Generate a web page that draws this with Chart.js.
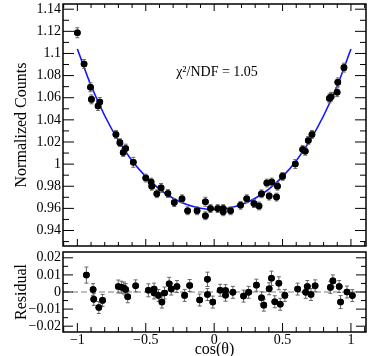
<!DOCTYPE html>
<html>
<head>
<meta charset="utf-8">
<script src="https://cdn.jsdelivr.net/npm/chart.js@4.4.1/dist/chart.umd.min.js"></script>
<style>
  html, body { margin: 0; padding: 0; background: #fff; }
  #wrap { position: relative; width: 374px; height: 356px; overflow: hidden; }
  #fitChart { position: absolute; left: 0; top: 0; }
  #residChart { position: absolute; left: 0; top: 248px; }
</style>
</head>
<body>
<div id="wrap">
  <canvas id="fitChart" width="374" height="250"></canvas>
  <canvas id="residChart" width="374" height="108"></canvas>
</div>
<script>
// fit curve
const fitX = [-1, -0.9, -0.8, -0.7, -0.6, -0.5, -0.4, -0.3, -0.2, -0.1, 0, 0.1, 0.2, 0.3, 0.4, 0.5, 0.6, 0.7, 0.8, 0.9, 1];
const fitY = [1.104, 1.071, 1.0437, 1.0213, 1.0031, 0.9887, 0.9775, 0.9692, 0.9634, 0.9601, 0.959, 0.9601, 0.9634, 0.9692, 0.9775, 0.9887, 1.0031, 1.0213, 1.0437, 1.071, 1.104];

// upper panel data points
const cosUpper = [-1.0, -0.951, -0.904, -0.897, -0.849, -0.836, -0.718, -0.689, -0.665, -0.647, -0.591, -0.5, -0.461, -0.456, -0.419, -0.388, -0.338, -0.292, -0.235, -0.194, -0.125, -0.064, -0.064, -0.027, 0.026, 0.066, 0.066, 0.12, 0.193, 0.238, 0.291, 0.328, 0.346, 0.385, 0.402, 0.421, 0.456, 0.463, 0.5, 0.593, 0.647, 0.666, 0.688, 0.715, 0.843, 0.855, 0.899, 0.904, 0.949];
const countsUpper = [1.1187, 1.0905, 1.0694, 1.0585, 1.0525, 1.0561, 1.0268, 1.0194, 1.0105, 1.014, 1.0016, 0.9874, 0.9838, 0.98, 0.9732, 0.9785, 0.9734, 0.9652, 0.9687, 0.9578, 0.9578, 0.966, 0.9533, 0.9598, 0.9598, 0.9598, 0.9569, 0.9578, 0.9628, 0.9687, 0.9643, 0.9622, 0.9732, 0.9829, 0.9711, 0.9838, 0.9702, 0.98, 0.9889, 1.0001, 1.0132, 1.0116, 1.0214, 1.0268, 1.0594, 1.0609, 1.065, 1.0739, 1.0872];
const errUpper = [0.0045, 0.004, 0.004, 0.004, 0.004, 0.004, 0.0035, 0.0035, 0.0035, 0.004, 0.0045, 0.0035, 0.0035, 0.0035, 0.0035, 0.004, 0.0035, 0.0035, 0.0035, 0.0035, 0.0035, 0.004, 0.0035, 0.0035, 0.0035, 0.0035, 0.0035, 0.0035, 0.0035, 0.0035, 0.0035, 0.0035, 0.0035, 0.0035, 0.0035, 0.0035, 0.0035, 0.0035, 0.0035, 0.004, 0.0035, 0.0035, 0.0035, 0.0035, 0.004, 0.004, 0.004, 0.004, 0.004];

// lower panel residuals
const cosResid = [-0.934, -0.885, -0.88, -0.843, -0.816, -0.701, -0.677, -0.66, -0.647, -0.632, -0.574, -0.481, -0.439, -0.439, -0.407, -0.382, -0.363, -0.329, -0.314, -0.272, -0.216, -0.179, -0.106, -0.049, -0.049, -0.01, 0.044, 0.083, 0.083, 0.137, 0.215, 0.252, 0.309, 0.346, 0.363, 0.402, 0.419, 0.443, 0.473, 0.483, 0.517, 0.61, 0.669, 0.681, 0.708, 0.738, 0.85, 0.868, 0.914, 0.924, 0.971, 1.01];
const resid = [0.0099, 0.0014, -0.0043, -0.0091, -0.0049, 0.0032, 0.0028, 0.0023, 0.0014, -0.0028, 0.0036, 0.001, 0.0017, -0.0006, -0.002, -0.0059, -0.0006, 0.0048, 0.0017, 0.0032, -0.002, 0.0038, -0.0047, 0.0074, -0.0015, -0.0059, 0.001, 0.0008, -0.0019, -0.0002, -0.0024, -0.0002, 0.004, -0.0034, -0.0077, 0.0019, 0.008, -0.0057, 0.0051, -0.0072, -0.002, 0.0017, -0.0002, 0.0032, -0.0015, 0.0036, 0.0027, 0.0065, 0.0032, -0.0059, 0.0, -0.0021];
const errResid = [0.0047, 0.0035, 0.0035, 0.0035, 0.0035, 0.0038, 0.0035, 0.0035, 0.0035, 0.0035, 0.0035, 0.0038, 0.0035, 0.0035, 0.0035, 0.0035, 0.0035, 0.0038, 0.0035, 0.0035, 0.0035, 0.0035, 0.0035, 0.0042, 0.0035, 0.0035, 0.0035, 0.0035, 0.0035, 0.0035, 0.0035, 0.0035, 0.0035, 0.0035, 0.0035, 0.0035, 0.0042, 0.0035, 0.0038, 0.0035, 0.0035, 0.0035, 0.0035, 0.0035, 0.0035, 0.0035, 0.0035, 0.0035, 0.0035, 0.0038, 0.0035, 0.0035];

// tick labels
const yTicksUpper = [0.94, 0.96, 0.98, 1, 1.02, 1.04, 1.06, 1.08, 1.1, 1.12, 1.14];
const yTicksResid = [-0.02, -0.01, 0, 0.01, 0.02];
const xTicks = [-1, -0.5, 0, 0.5, 1];

const FONT = '"Liberation Serif", "Times New Roman", serif';
const xMin = -1.105, xMax = 1.11;

function minusFmt(v, digits) {
  if (Math.abs(v) < 1e-9) return '0';
  const s = String(+Math.abs(v).toFixed(digits));
  return (v < 0 ? '\u2212' : '') + s;
}

function pairs(xs, ys) {
  return xs.map((x, i) => ({ x: x, y: ys[i] }));
}

// no extra room for half labels, the frame sits where we put it
function noPad(s) {
  s.paddingTop = 0; s.paddingBottom = 0;
  s.paddingLeft = 0; s.paddingRight = 0;
}

// error bars, then markers again on top
const errorBars = {
  id: 'errorBars',
  afterDatasetsDraw(chart) {
    const { ctx, scales: { y } } = chart;
    chart.data.datasets.forEach((ds, i) => {
      if (!ds.errY) return;
      const meta = chart.getDatasetMeta(i);
      ctx.save();
      ctx.strokeStyle = '#666';
      ctx.lineWidth = 1;
      meta.data.forEach((pt, j) => {
        const v = ds.data[j].y;
        const y1 = y.getPixelForValue(v + ds.errY[j]);
        const y2 = y.getPixelForValue(v - ds.errY[j]);
        ctx.beginPath();
        ctx.moveTo(pt.x, y1); ctx.lineTo(pt.x, y2);
        ctx.moveTo(pt.x - 2, y1); ctx.lineTo(pt.x + 2, y1);
        ctx.moveTo(pt.x - 2, y2); ctx.lineTo(pt.x + 2, y2);
        ctx.stroke();
      });
      ctx.restore();
      meta.data.forEach(pt => pt.draw(ctx, chart.chartArea));
    });
  }
};

// ROOT-like frame with inward ticks
function tickMarks(ctx, scale, vals, side, a, lenFn) {
  vals.forEach(v => {
    const p = scale.getPixelForValue(v);
    const len = lenFn(v);
    ctx.beginPath();
    if (side === 'left') { ctx.moveTo(a.left, p); ctx.lineTo(a.left + len, p); }
    if (side === 'right') { ctx.moveTo(a.right, p); ctx.lineTo(a.right - len, p); }
    if (side === 'top') { ctx.moveTo(p, a.top); ctx.lineTo(p, a.top + len); }
    if (side === 'bottom') { ctx.moveTo(p, a.bottom); ctx.lineTo(p, a.bottom - len); }
    ctx.stroke();
  });
}

function steps(from, to, step) {
  const out = [];
  for (let k = Math.round(from / step); k * step <= to + 1e-9; k++) out.push(+(k * step).toFixed(4));
  return out;
}

const frame = {
  id: 'frame',
  afterDraw(chart, args, opts) {
    const { ctx, chartArea: a, scales: { x, y } } = chart;
    ctx.save();
    ctx.strokeStyle = '#000';
    ctx.lineWidth = 1;
    const yv = steps(y.min, y.max, opts.yMinor).filter(v => v >= y.min && v <= y.max);
    const isMajY = v => Math.abs(v / opts.yMajor - Math.round(v / opts.yMajor)) < 1e-6;
    tickMarks(ctx, y, yv, 'left', a, v => isMajY(v) ? opts.yLen[0] : opts.yLen[1]);
    tickMarks(ctx, y, yv, 'right', a, v => isMajY(v) ? opts.yLen[0] : opts.yLen[1]);
    const xv = steps(-1.1, 1.1, 0.1).filter(v => v >= x.min && v <= x.max);
    const isMajX = v => Math.abs(v / 0.5 - Math.round(v / 0.5)) < 1e-6;
    opts.xSides.forEach(s => tickMarks(ctx, x, xv, s, a, v => isMajX(v) ? opts.xLen[0] : opts.xLen[1]));
    ctx.lineWidth = 1.5;
    ctx.strokeRect(a.left, a.top, a.right - a.left, a.bottom - a.top);
    ctx.restore();
  }
};

const zeroLine = {
  id: 'zeroLine',
  beforeDatasetsDraw(chart, args, opts) {
    if (!opts.show) return;
    const { ctx, chartArea: a, scales: { y } } = chart;
    const py = y.getPixelForValue(0);
    ctx.save();
    ctx.strokeStyle = '#a8a8a8';
    ctx.lineWidth = 1.5;
    ctx.setLineDash([6, 3]);
    ctx.beginPath();
    ctx.moveTo(a.left, py); ctx.lineTo(a.right, py);
    ctx.stroke();
    ctx.restore();
  }
};

const chiLabel = {
  id: 'chiLabel',
  afterDraw(chart, args, opts) {
    if (!opts.text) return;
    const { ctx } = chart;
    ctx.save();
    ctx.fillStyle = '#000';
    ctx.font = '14px ' + FONT;
    ctx.textAlign = 'center';
    ctx.textBaseline = 'middle';
    ctx.fillText(opts.text, 217, 72);
    ctx.restore();
  }
};

const fitChart = new Chart(document.getElementById('fitChart'), {
  type: 'scatter',
  data: {
    datasets: [
      {
        data: pairs(cosUpper, countsUpper),
        errY: errUpper,
        backgroundColor: '#000',
        borderWidth: 0,
        pointRadius: 3.3,
        order: 0
      },
      {
        type: 'line',
        data: pairs(fitX, fitY),
        borderColor: '#1414ff',
        borderWidth: 1.6,
        pointRadius: 0,
        fill: false,
        cubicInterpolationMode: 'monotone',
        order: 1
      }
    ]
  },
  options: {
    responsive: false,
    animation: false,
    events: [],
    layout: { padding: { top: 3, right: 8, bottom: 1, left: 0 } },
    scales: {
      x: { type: 'linear', min: xMin, max: xMax, display: false },
      y: {
        min: 0.926, max: 1.1447,
        afterFit: s => { s.width = 63; noPad(s); },
        afterBuildTicks: s => { s.ticks = yTicksUpper.map(v => ({ value: v })); },
        grid: { display: false, drawTicks: false },
        border: { display: false },
        ticks: { color: '#000', padding: 2, autoSkip: false, font: { family: FONT, size: 14 }, callback: v => minusFmt(v, 2) },
        title: { display: true, text: 'Normalized Counts', color: '#000', font: { family: FONT, size: 16 }, padding: { top: 12 } }
      }
    },
    plugins: {
      legend: { display: false },
      tooltip: { enabled: false },
      frame: { yMinor: 0.01, yMajor: 0.02, yLen: [11, 6], xSides: ['top', 'bottom'], xLen: [7, 4] },
      zeroLine: { show: false },
      chiLabel: { text: '\u03C7\u00B2/NDF = 1.05' }
    }
  },
  plugins: [errorBars, frame, zeroLine, chiLabel]
});

const residChart = new Chart(document.getElementById('residChart'), {
  type: 'scatter',
  data: {
    datasets: [{
      data: pairs(cosResid, resid),
      errY: errResid,
      backgroundColor: '#000',
      borderWidth: 0,
      pointRadius: 3.3
    }]
  },
  options: {
    responsive: false,
    animation: false,
    events: [],
    layout: { padding: { top: 1, right: 8, bottom: 0, left: 0 } },
    scales: {
      x: {
        type: 'linear', min: xMin, max: xMax,
        afterFit: s => { s.height = 24; noPad(s); },
        afterBuildTicks: s => { s.ticks = xTicks.map(v => ({ value: v })); },
        grid: { display: false, drawTicks: false },
        border: { display: false },
        ticks: { color: '#000', padding: 0, maxRotation: 0, autoSkip: false, font: { family: FONT, size: 14 }, callback: v => minusFmt(v, 1) },
        title: { display: true, text: 'cos(\u03B8)', color: '#000', font: { family: FONT, size: 16, lineHeight: 0.8 }, padding: 0 }
      },
      y: {
        min: -0.0234, max: 0.0234,
        afterFit: s => { s.width = 63; noPad(s); },
        afterBuildTicks: s => { s.ticks = yTicksResid.map(v => ({ value: v })); },
        grid: { display: false, drawTicks: false },
        border: { display: false },
        ticks: { color: '#000', padding: 2, autoSkip: false, font: { family: FONT, size: 14 }, callback: v => minusFmt(v, 2) },
        title: { display: true, text: 'Residual', color: '#000', font: { family: FONT, size: 16 }, padding: { top: 12 } }
      }
    },
    plugins: {
      legend: { display: false },
      tooltip: { enabled: false },
      frame: { yMinor: 0.005, yMajor: 0.01, yLen: [10, 5], xSides: ['bottom'], xLen: [9, 5] },
      zeroLine: { show: true },
      chiLabel: { text: '' }
    }
  },
  plugins: [errorBars, frame, zeroLine, chiLabel]
});
</script>
</body>
</html>
